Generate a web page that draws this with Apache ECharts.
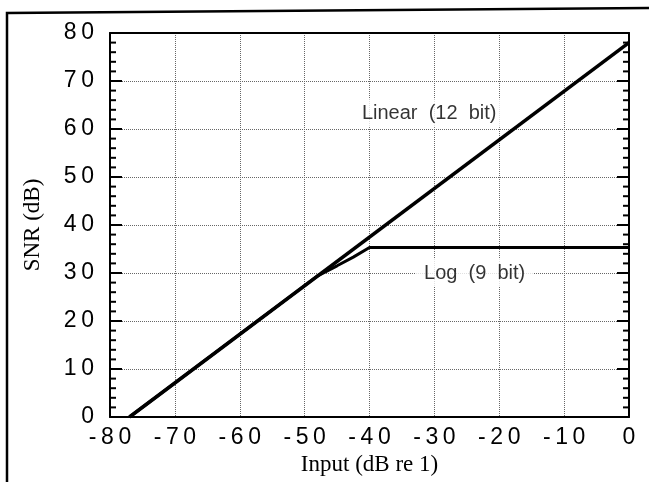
<!doctype html>
<html>
<head>
<meta charset="utf-8">
<title>SNR vs input</title>
<style>
  html, body { margin: 0; padding: 0; background: #fff; }
  #main { width: 649px; height: 482px; }
</style>
</head>
<body>
<div id="main"></div>
<script src="https://cdn.jsdelivr.net/npm/echarts@6/dist/echarts.min.js"></script>
<script>
// values
var linearData = [[-77, 0], [0, 78]];
var logData = [[-77, 0], [-48, 29.4], [-45, 31.5], [-42.5, 33.3], [-40, 35.3], [0, 35.3]];
var notes = [
    { name: 'Linear  (12  bit)', value: [-30.8, 63.3] },
    { name: 'Log  (9  bit)', value: [-23.8, 30] }
];
var xRange = [-80, 0];
var yRange = [0, 80];
// tick positions on the left and right frame (major every 10, minor every 2)
var yTicks = [0, 2, 4, 6, 8, 10, 12, 14, 16, 18, 20, 22, 24, 26, 28, 30, 32, 34, 36, 38, 40,
    42, 44, 46, 48, 50, 52, 54, 56, 58, 60, 62, 64, 66, 68, 70, 72, 74, 76, 78, 80];

var sans = 'Liberation Sans, Arial, Helvetica, sans-serif';
var serif = 'Liberation Serif, Times New Roman, serif';

function spaced(v) {
    return String(v).split('').join('\u2009');
}

var chart = echarts.init(document.getElementById('main'), null, { renderer: 'canvas' });

var gridLine = { show: true, lineStyle: { color: '#666', type: 'dotted', width: 1 } };

function frame() {
    return { show: true, onZero: false, lineStyle: { color: '#000', width: 2 } };
}

// inward ticks on both sides of the plot, placed through the y scale
function renderTick(params, api) {
    var v = api.value(1);
    var len = v % 10 === 0 ? 12 : 6;
    var l = api.coord([xRange[0], v]);
    var r = api.coord([xRange[1], v]);
    var st = { stroke: '#000', lineWidth: 2 };
    return {
        type: 'group',
        children: [
            { type: 'line', shape: { x1: l[0], y1: l[1], x2: l[0] + len, y2: l[1] }, style: st },
            { type: 'line', shape: { x1: r[0] - len, y1: r[1], x2: r[0], y2: r[1] }, style: st }
        ]
    };
}

chart.setOption({
    backgroundColor: '#fff',
    animation: false,
    grid: { left: 110, right: 20, top: 33, bottom: 65 },
    graphic: [{
        type: 'polyline',
        shape: { points: [[7, 482], [7, 13], [649, 8]] },
        style: { stroke: '#000', lineWidth: 2.5, fill: null }
    }],
    xAxis: [{
        type: 'value', min: xRange[0], max: xRange[1], interval: 10,
        name: 'Input (dB re 1)', nameLocation: 'middle', nameGap: 36,
        nameTextStyle: { fontFamily: serif, fontSize: 23, color: '#000' },
        axisLine: frame(),
        axisTick: { show: false },
        axisLabel: {
            margin: 9, color: '#000', fontFamily: sans, fontSize: 23,
            formatter: spaced
        },
        splitLine: gridLine
    }, {
        type: 'value', min: xRange[0], max: xRange[1], interval: 10, position: 'top',
        axisLine: frame(),
        axisTick: { show: false },
        axisLabel: { show: false },
        splitLine: { show: false }
    }],
    yAxis: [{
        type: 'value', min: yRange[0], max: yRange[1], interval: 10,
        name: 'SNR (dB)', nameLocation: 'middle', nameGap: 66, nameRotate: 90,
        nameTextStyle: { fontFamily: serif, fontSize: 23, color: '#000' },
        axisLine: frame(),
        axisTick: { show: false },
        axisLabel: {
            margin: 16, color: '#000', fontFamily: sans, fontSize: 23,
            formatter: spaced
        },
        splitLine: gridLine
    }, {
        type: 'value', min: yRange[0], max: yRange[1], interval: 10, position: 'right',
        axisLine: frame(),
        axisTick: { show: false },
        axisLabel: { show: false },
        splitLine: { show: false }
    }],
    series: [{
        name: 'Log (9 bit)', type: 'line', data: logData,
        symbol: 'none', lineStyle: { color: '#000', width: 3 }, z: 3
    }, {
        name: 'Linear (12 bit)', type: 'line', data: linearData,
        symbol: 'none', lineStyle: { color: '#000', width: 3.5 }, z: 3
    }, {
        type: 'custom', renderItem: renderTick, clip: false, silent: true, z: 5,
        data: yTicks.map(function (v) { return [xRange[0], v]; })
    }, {
        type: 'scatter', data: notes, symbolSize: 0, z: 4,
        label: {
            show: true, position: 'inside', formatter: '{b}',
            fontFamily: sans, fontSize: 20, color: '#000',
            backgroundColor: '#fff', padding: [4, 8]
        }
    }]
});
</script>
</body>
</html>
